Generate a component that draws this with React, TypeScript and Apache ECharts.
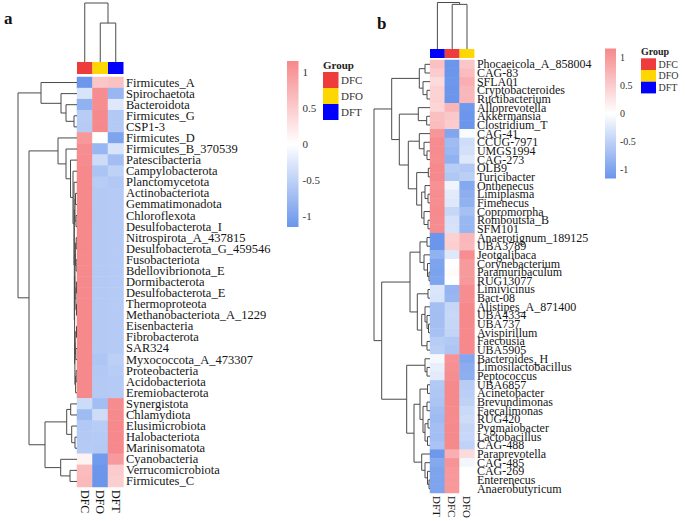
import React, { useEffect, useRef } from 'react';
import * as echarts from 'echarts';

// ---------- data ----------
const groupsA = ['DFC', 'DFO', 'DFT'];
const groupsB = ['DFT', 'DFC', 'DFO'];
const legendGroups = ['DFC', 'DFO', 'DFT'];
const groupColors: Record<string, string> = { DFC: '#EE3B3B', DFO: '#FFD700', DFT: '#0000FF' };
const legendTicks = [1, 0.5, 0, -0.5, -1];
const scaleMin = -1.155;
const scaleMax = 1.155;

const rowsA = [
  'Firmicutes_A', 'Spirochaetota', 'Bacteroidota', 'Firmicutes_G', 'CSP1-3', 'Firmicutes_D',
  'Firmicutes_B_370539', 'Patescibacteria', 'Campylobacterota', 'Planctomycetota', 'Actinobacteriota',
  'Gemmatimonadota', 'Chloroflexota', 'Desulfobacterota_I', 'Nitrospirota_A_437815',
  'Desulfobacterota_G_459546', 'Fusobacteriota', 'Bdellovibrionota_E', 'Dormibacterota',
  'Desulfobacterota_E', 'Thermoproteota', 'Methanobacteriota_A_1229', 'Eisenbacteria',
  'Fibrobacterota', 'SAR324', 'Myxococcota_A_473307', 'Proteobacteria', 'Acidobacteriota',
  'Eremiobacterota', 'Synergistota', 'Chlamydiota', 'Elusimicrobiota', 'Halobacteriota',
  'Marinisomatota', 'Cyanobacteria', 'Verrucomicrobiota', 'Firmicutes_C',
];
const dfcA = [-1.15, -0.3, -0.85, -0.55, -0.57, 1.0, 1.1, 1.12, 1.15, 1.15, 1.15, 1.15, 1.15, 1.15, 1.15, 1.15, 1.15, 1.15, 1.15, 1.15, 1.15, 1.15, 1.15, 1.15, 1.15, 1.15, 1.15, 1.15, 1.15, -0.4, -0.75, -0.6, -0.58, -0.57, 0.12, 0.65, 0.68];
const dfoA = [0.55, 1.1, 1.1, 1.15, 1.15, 0.0, -0.8, -0.4, -0.65, -0.55, -0.58, -0.58, -0.58, -0.58, -0.58, -0.58, -0.58, -0.58, -0.58, -0.58, -0.58, -0.58, -0.58, -0.58, -0.58, -0.63, -0.6, -0.58, -0.58, -0.72, -0.38, -0.55, -0.57, -0.58, -1.1, -1.15, -1.15];
const dftA = [0.6, -0.8, -0.25, -0.6, -0.58, -1.0, -0.3, -0.72, -0.5, -0.6, -0.57, -0.57, -0.57, -0.57, -0.57, -0.57, -0.57, -0.57, -0.57, -0.57, -0.57, -0.57, -0.57, -0.57, -0.57, -0.52, -0.55, -0.57, -0.57, 1.12, 1.13, 1.15, 1.15, 1.15, 0.98, 0.5, 0.47];

const rowsB = [
  'Phocaeicola_A_858004', 'CAG-83', 'SFLA01', 'Cryptobacteroides', 'Ructibacterium', 'Alloprevotella',
  'Akkermansia', 'Clostridium_T', 'CAG-41', 'CCUG-7971', 'UMGS1994', 'CAG-273', 'OLB9', 'Turicibacter',
  'Onthenecus', 'Limiplasma', 'Fimenecus', 'Copromorpha', 'Romboutsia_B', 'SFM101',
  'Anaerotignum_189125', 'UBA3789', 'Jeotgalibaca', 'Corynebacterium', 'Paramuribaculum', 'RUG13077',
  'Limivicinus', 'Bact-08', 'Alistipes_A_871400', 'UBA4334', 'UBA737', 'Avispirillum', 'Faecousia',
  'UBA5905', 'Bacteroides_H', 'Limosilactobacillus', 'Peptococcus', 'UBA6857', 'Acinetobacter',
  'Brevundimonas', 'Faecalimonas', 'RUG420', 'Pygmaiobacter', 'Lactobacillus', 'CAG-488',
  'Paraprevotella', 'CAG-485', 'CAG-269', 'Enterenecus', 'Anaerobutyricum',
];
const dftB = [0.6, 0.5, 0.35, 0.45, 0.45, 0.4, 0.62, 0.65, 1.02, 1.12, 1.12, 1.1, 1.15, 1.15, 1.07, 1.1, 1.1, 1.14, 1.12, 1.12, -1.15, -1.15, -0.85, -1.0, -1.02, -1.0, -0.28, -0.3, -0.7, -0.72, -0.7, -0.68, -0.55, -0.52, -0.08, -0.18, -0.22, -0.6, -0.62, -0.65, -0.72, -0.75, -0.7, -0.72, -0.66, -1.13, -0.95, -1.0, -1.0, -1.0];
const dfcB = [-1.15, -1.15, -1.13, -1.15, -1.15, 0.72, 0.53, 0.5, -0.98, -0.75, -0.78, -0.85, -0.55, -0.62, -0.12, -0.22, -0.25, -0.45, -0.33, -0.32, 0.45, 0.48, -0.25, 0.02, 0.04, 0.0, -0.82, -0.8, -0.45, -0.43, -0.45, -0.47, -0.6, -0.63, 1.05, 1.08, 1.1, 1.15, 1.15, 1.15, 1.14, 1.13, 1.15, 1.15, 1.15, 0.78, 1.05, 1.0, 1.0, 1.0];
const dfoB = [0.55, 0.65, 0.78, 0.7, 0.7, -1.12, -1.15, -1.15, -0.04, -0.37, -0.34, -0.25, -0.6, -0.53, -0.95, -0.88, -0.85, -0.69, -0.79, -0.8, 0.7, 0.67, 1.1, 0.98, 0.98, 1.0, 1.1, 1.1, 1.15, 1.15, 1.15, 1.15, 1.15, 1.15, -0.97, -0.9, -0.88, -0.55, -0.53, -0.5, -0.42, -0.38, -0.45, -0.43, -0.49, 0.35, -0.1, 0.0, 0.0, 0.0];

// dendrogram merges: [left, right, height]; negative = leaf (row number), positive = earlier merge
const rowTreeA = [
  [-4, -5, 3], [-3, 1, 11], [-2, 2, 16], [-1, 3, 36],
  [-11, -12, 1.5], [-13, -14, 1.0], [-15, -16, 0.8], [-17, -18, 0.9], [-19, -20, 0.6],
  [-21, -22, 0.5], [-23, -24, 0.5], [-25, -26, 1.2], [-27, -28, 0.9], [13, -29, 1.4],
  [5, 6, 2.0], [7, 8, 1.6], [9, 10, 1.1], [11, 12, 1.8], [16, 17, 2.0], [18, 14, 2.1],
  [19, 20, 2.4], [15, 21, 2.7], [-10, 22, 3], [-9, 23, 4], [-8, 24, 6.5], [-7, 25, 11],
  [-6, 26, 19],
  [-30, -31, 6.3], [-33, -34, 2], [-32, 29, 5.3], [28, 30, 10.3], [-36, -37, 7], [-35, 32, 16.3],
  [31, 33, 32], [27, 34, 48], [4, 35, 59],
];
const colTreeA = [[-2, -3, 0.66], [-1, 1, 1.0]];

const rowTreeB = [
  [-1, -2, 5], [-4, -5, 3], [-3, 2, 7], [1, 3, 10.7],
  [-7, -8, 3.3], [-6, 5, 11.7],
  [-11, -12, 3], [-10, 7, 6], [-9, 8, 10.7],
  [-13, -14, 1.7], [-16, -17, 2], [-15, 11, 5], [-19, -20, 2], [-18, 13, 6], [12, 14, 8.3], [10, 15, 13.3],
  [9, 16, 21.7], [6, 17, 30.7], [4, 18, 38.3],
  [-21, -22, 3], [-25, -26, 1], [-24, 21, 2.5], [-23, 22, 6], [20, 23, 10],
  [-27, -28, 2], [-31, -32, 1.5], [-30, 26, 3], [-29, 27, 5], [-33, -34, 3], [28, 29, 8.3], [25, 30, 12.7],
  [24, 31, 20],
  [-36, -37, 3], [-35, 33, 5],
  [-38, -39, 2.5], [-40, -41, 3], [-42, -43, 2], [-44, -45, 2.5], [37, 38, 5], [36, 39, 7], [35, 40, 10],
  [-49, -50, 1], [-48, 42, 2.5], [-47, 43, 5], [-46, 44, 8.3], [41, 45, 16], [34, 46, 23.3],
  [32, 47, 48.3], [19, 48, 56],
];
const colTreeB = [[-2, -3, 0.96], [-1, 1, 1.0]];

// ---------- styling ----------
const colLow = '#6A96EB';
const colMid = '#FFFFFF';
const colHigh = '#F6888B';
const lineColor = '#4a4a4a';
const serif = '"Liberation Serif", "DejaVu Serif", serif';
const textColor = '#151515';

function dendroSegments(merges: number[][]) {
  const pos: number[] = [];
  const hg: number[] = [];
  const out: number[][] = [];
  merges.forEach(([a, b, h]) => {
    const pa = a < 0 ? -a - 0.5 : pos[a - 1];
    const ha = a < 0 ? 0 : hg[a - 1];
    const pb = b < 0 ? -b - 0.5 : pos[b - 1];
    const hb = b < 0 ? 0 : hg[b - 1];
    pos.push((pa + pb) / 2);
    hg.push(h);
    out.push([pa, ha, pb, hb, h]);
  });
  return out;
}

const dendroRender = (rowsMode: boolean) => (_params: any, api: any) => {
  const pa = api.value(0), ha = api.value(1), pb = api.value(2), hb = api.value(3), h = api.value(4);
  const pt = (p: number, hh: number) => (rowsMode ? api.coord([hh, p]) : api.coord([p, hh]));
  return {
    type: 'polyline',
    shape: { points: [pt(pa, ha), pt(pa, h), pt(pb, h), pt(pb, hb)] },
    style: { stroke: lineColor, lineWidth: 1, fill: 'none' },
  };
};

function heatData(groups: string[], vals: Record<string, number[]>, nRows: number) {
  const d: number[][] = [];
  for (let i = 0; i < nRows; i++) {
    groups.forEach((g, j) => d.push([j, i, vals[g][i]]));
  }
  return d;
}

export default function App() {
  const ref = useRef<HTMLDivElement>(null);
  useEffect(() => {
    if (!ref.current) return;
    const chart = echarts.init(ref.current, undefined, { renderer: 'svg' });

    const P = {
      a: { heat: [77, 77, 46.5, 410], bar: [77, 62, 46.5, 12], left: [18, 77, 59, 410], top: [77, 3, 46.5, 59], cbar: [287, 61, 11.5, 166] },
      b: { heat: [430, 60, 44.4, 433], bar: [430, 49, 44.4, 9], left: [374, 60, 56, 433], top: [430, 2.5, 44.4, 46.5], cbar: [605, 48.5, 11, 130] },
    };
    const g = (r: number[]) => ({ left: r[0], top: r[1], width: r[2], height: r[3] });
    const grid = [
      g(P.a.heat), g(P.a.bar), g(P.a.left), g(P.a.top), g(P.a.cbar),
      g(P.b.heat), g(P.b.bar), g(P.b.left), g(P.b.top), g(P.b.cbar),
    ];
    const hidden = { axisLine: { show: false }, axisTick: { show: false }, splitLine: { show: false } };
    const heatX = (idx: number, data: string[], fs: number) => ({
      type: 'category', gridIndex: idx, data, position: 'bottom', ...hidden,
      axisLabel: { rotate: -90, fontSize: fs, fontFamily: serif, color: textColor, margin: 3, interval: 0 },
    });
    const heatY = (idx: number, data: string[], fs: number) => ({
      type: 'category', gridIndex: idx, data, inverse: true, position: 'right', ...hidden,
      axisLabel: { fontSize: fs, fontFamily: serif, color: textColor, margin: 2.5, interval: 0 },
    });
    const hv = (idx: number, min: number, max: number, inverse = false) => ({
      type: 'value', gridIndex: idx, min, max, inverse, show: false,
    });
    const hc = (idx: number, data: string[]) => ({ type: 'category', gridIndex: idx, data, show: false });
    const cbarY = (idx: number, fs: number) => ({
      type: 'value', gridIndex: idx, min: scaleMin, max: scaleMax, position: 'right', ...hidden,
      axisLabel: { customValues: legendTicks, fontSize: fs, fontFamily: serif, color: '#333', margin: 4 },
    });

    const xAxis = [
      heatX(0, groupsA, 12), hc(1, groupsA), hv(2, 0, 59, true), hv(3, 0, 3), hv(4, 0, 1),
      heatX(5, groupsB, 11), hc(6, groupsB), hv(7, 0, 56, true), hv(8, 0, 3), hv(9, 0, 1),
    ];
    const yAxis = [
      heatY(0, rowsA, 12.5), hv(1, 0, 1), hv(2, 0, rowsA.length, true), hv(3, 0, 1), cbarY(4, 11),
      heatY(5, rowsB, 12), hv(6, 0, 1), hv(7, 0, rowsB.length, true), hv(8, 0, 1), cbarY(9, 10),
    ];

    const valsA: Record<string, number[]> = { DFC: dfcA, DFO: dfoA, DFT: dftA };
    const valsB: Record<string, number[]> = { DFT: dftB, DFC: dfcB, DFO: dfoB };

    const groupBar = (idx: number, groups: string[]) => ({
      type: 'bar', xAxisIndex: idx, yAxisIndex: idx, barCategoryGap: '0%', silent: true,
      data: groups.map((gr) => ({ value: 1, itemStyle: { color: groupColors[gr] } })),
    });
    const dendro = (idx: number, tree: number[][], rowsMode: boolean) => ({
      type: 'custom', xAxisIndex: idx, yAxisIndex: idx, clip: false, silent: true,
      renderItem: dendroRender(rowsMode), data: dendroSegments(tree),
    });

    const gradient = {
      type: 'linear', x: 0, y: 0, x2: 0, y2: 1,
      colorStops: [{ offset: 0, color: colHigh }, { offset: 0.5, color: colMid }, { offset: 1, color: colLow }],
    };
    const groupLegend = (x: number, yTitle: number, yBox: number, bw: number, bh: number, fs: number) => {
      const els: any[] = [{
        type: 'text', left: x, top: yTitle,
        style: { text: 'Group', font: `bold ${fs}px ${serif}`, fill: '#222' },
      }];
      legendGroups.forEach((gr, k) => {
        els.push({ type: 'rect', shape: { x, y: yBox + k * bh, width: bw, height: bh }, style: { fill: groupColors[gr] } });
        els.push({
          type: 'text', x: x + bw + 2.5, y: yBox + k * bh + bh / 2,
          style: { text: gr, font: `${fs}px ${serif}`, fill: '#333', textVerticalAlign: 'middle', verticalAlign: 'middle' },
        });
      });
      return els;
    };

    chart.setOption({
      animation: false,
      backgroundColor: '#ffffff',
      grid,
      xAxis,
      yAxis,
      visualMap: {
        type: 'continuous', show: false, seriesIndex: [0, 1], dimension: 2,
        min: scaleMin, max: scaleMax, inRange: { color: [colLow, colMid, colHigh] },
      },
      series: [
        { type: 'heatmap', xAxisIndex: 0, yAxisIndex: 0, data: heatData(groupsA, valsA, rowsA.length), silent: true, itemStyle: { borderWidth: 0 } },
        { type: 'heatmap', xAxisIndex: 5, yAxisIndex: 5, data: heatData(groupsB, valsB, rowsB.length), silent: true, itemStyle: { borderWidth: 0 } },
        groupBar(1, groupsA),
        groupBar(6, groupsB),
        dendro(2, rowTreeA, true),
        dendro(3, colTreeA, false),
        dendro(7, rowTreeB, true),
        dendro(8, colTreeB, false),
      ],
      graphic: [
        { type: 'text', left: 4, top: 10, style: { text: 'a', font: `bold 17px ${serif}`, fill: '#111' } },
        { type: 'text', left: 377, top: 15, style: { text: 'b', font: `bold 17px ${serif}`, fill: '#111' } },
        { type: 'rect', shape: { x: P.a.cbar[0], y: P.a.cbar[1], width: P.a.cbar[2], height: P.a.cbar[3] }, style: { fill: gradient } },
        { type: 'rect', shape: { x: P.b.cbar[0], y: P.b.cbar[1], width: P.b.cbar[2], height: P.b.cbar[3] }, style: { fill: gradient } },
        ...groupLegend(323, 59, 72, 15.5, 16, 11),
        ...groupLegend(641, 46, 58.3, 15, 11.7, 10),
      ],
    });
    return () => chart.dispose();
  }, []);
  return <div ref={ref} style={{ position: 'fixed', left: 0, top: 0, width: 685, height: 521, background: '#fff' }} />;
}
